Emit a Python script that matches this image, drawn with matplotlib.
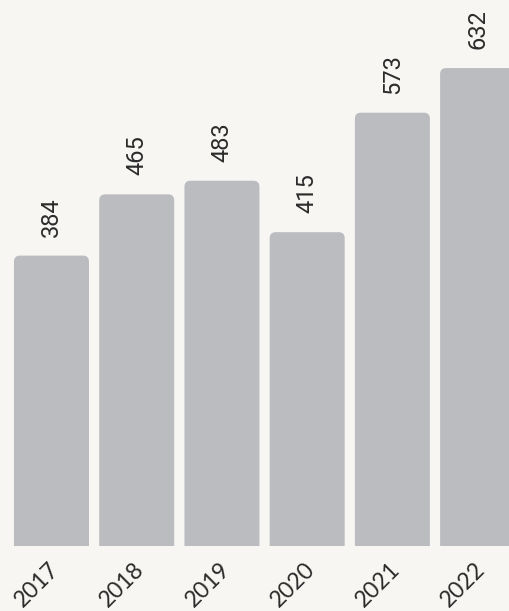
import matplotlib
matplotlib.use('Agg')
import matplotlib.pyplot as plt
from matplotlib.patches import FancyBboxPatch
from matplotlib.transforms import ScaledTranslation

years = ['2017', '2018', '2019', '2020', '2021', '2022']
values = [384, 465, 483, 415, 573, 632]

bg = '#f7f6f3'
bar_color = '#bbbcc0'
text_color = '#2b2b2b'

plt.rcParams['font.family'] = ['Lato', 'DejaVu Sans']

fig = plt.figure(figsize=(5.10, 6.11), dpi=100, facecolor=bg)
ax = fig.add_axes([0, 65 / 611, 1, 546 / 611])
ax.set_facecolor(bg)

xlim = (-0.604, 5.38)
ylim = (0, 722)
ax.set_xlim(*xlim)
ax.set_ylim(*ylim)

# Pixel pro Dateneinheit, damit die Ecken rund und nicht oval werden
px_x = 510 / (xlim[1] - xlim[0])
px_y = 546 / (ylim[1] - ylim[0])
width = 0.88
radius = 6 / px_x

for i, v in enumerate(values):
    box = FancyBboxPatch((i - width / 2, -30), width, v + 30,
                         boxstyle='round,pad=0,rounding_size=%f' % radius,
                         mutation_aspect=px_x / px_y,
                         facecolor=bar_color, edgecolor='none')
    ax.add_patch(box)
    ax.text(i, v + 25, str(v), rotation=90, ha='center', va='bottom',
            fontsize=17, color=text_color, family=['Roboto', 'DejaVu Sans'])

ax.set_xticks(range(len(years)))
ax.set_xticklabels(years, rotation=45, ha='right', va='top',
                   rotation_mode='anchor', fontsize=16.5, color=text_color)
ax.tick_params(axis='x', length=0, pad=9)
shift = ScaledTranslation(-3 / 100, 0, fig.dpi_scale_trans)
for lab in ax.get_xticklabels():
    lab.set_transform(lab.get_transform() + shift)
ax.set_yticks([])
for s in ax.spines.values():
    s.set_visible(False)

fig.savefig('out.png', dpi=100, facecolor=bg)
